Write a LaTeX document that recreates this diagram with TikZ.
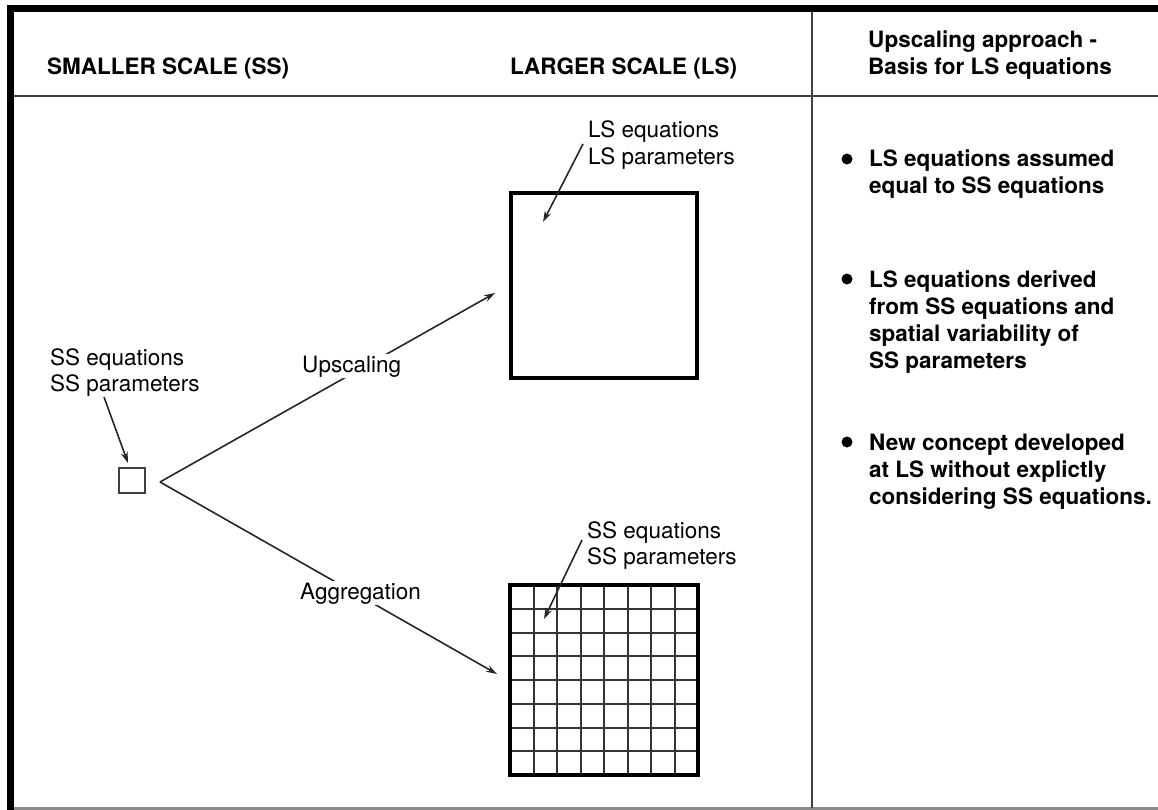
\documentclass[tikz,border=0pt]{standalone}
\usepackage{fontspec}
\setmainfont{TeX Gyre Heros}
\usetikzlibrary{arrows.meta}
\newcommand{\mlines}[1]{\begin{tabular}[t]{@{}l@{}}#1\end{tabular}}
\begin{document}
\begin{tikzpicture}[x=1pt,y=-1pt,
  lbl/.style={anchor=base west, inner sep=0pt, font=\fontsize{22.5}{26}\selectfont},
  hdr/.style={anchor=base west, inner sep=0pt, font=\fontsize{22.5}{27}\selectfont\bfseries},
  blt/.style={anchor=base west, inner sep=0pt, font=\fontsize{22.5}{27}\selectfont\bfseries},
  onl/.style={anchor=base west, inner sep=1.5pt, fill=white, font=\fontsize{22.5}{26}\selectfont},
  dot/.style={circle, fill=black, minimum size=11pt, inner sep=0pt},
  frame/.style={line width=7pt, black},
  rule/.style={line width=2pt, black!75},
  conn/.style={line width=1.6pt, black!85},
  arr/.style={conn, -{Stealth[length=11pt,width=7pt]}},
  bigbox/.style={line width=4pt, black},
  gridl/.style={line width=2pt, black!80}
]
\useasboundingbox (0,0) rectangle (1158,810);

% frame and table rules
\draw[line width=2.5pt, black!45] (7,808.5) -- (1158,808.5);
\draw[rule] (12,96) -- (1158,96);
\draw[line width=2.4pt, black!75] (812,9) -- (812,808);
\draw[frame] (7,8.5) -- (1158,8.5);
\draw[frame] (10.5,5) -- (10.5,810);

% headers
\node[hdr] (hss) at (47,74.5) {SMALLER SCALE (SS)};
\node[hdr] (hls) at (510,74.5) {LARGER SCALE (LS)};
\node[hdr] (hup) at (868,48) {\mlines{Upscaling approach -\\Basis for LS equations}};

% small scale element
\node[draw=black!75, line width=1.5pt, minimum width=26pt, minimum height=25pt, inner sep=0pt] (small) at (132,480.5) {};
\node[lbl] (sslbl) at (50,365) {\mlines{SS equations\\SS parameters}};
\coordinate (ssstart) at (104,397);
\coordinate (sstip) at (128,463);
\draw[arr] (ssstart) -- (sstip);

% branches
\coordinate (branch) at (160,482);
\coordinate (uptip) at (495,293);
\coordinate (agtip) at (497,674);
\draw[arr] (branch) -- (uptip);
\draw[arr] (branch) -- (agtip);
\node[onl] (uplbl) at (300.5,372) {Upscaling};
\node[onl] (aglbl) at (298.5,599) {Aggregation};

% large box
\node[bigbox, draw, minimum width=186pt, minimum height=185pt, inner sep=0pt] (lsbox) at (604,285.5) {};
\node[lbl, font=\fontsize{22.5}{27}\selectfont] (lslbl) at (588,138) {\mlines{LS equations\\LS parameters}};
\coordinate (lsstart) at (583,144);
\coordinate (lstip) at (543,222);
\draw[arr] (lsstart) -- (lstip);

% grid box
\foreach \i in {1,...,7} {
  \draw[gridl] ({510+\i*23.5},585) -- ({510+\i*23.5},775);
  \draw[gridl] (510,{585+\i*23.75}) -- (698,{585+\i*23.75});
}
\node[bigbox, draw, minimum width=188pt, minimum height=190pt, inner sep=0pt] (grid) at (604,680) {};
\node[lbl] (gridlbl) at (587,538) {\mlines{SS equations\\SS parameters}};
\coordinate (gstart) at (582,540);
\coordinate (gtip) at (544,619);
\draw[arr] (gstart) -- (gtip);

% right column bullets
\node[dot] (d1) at (847,159) {};
\node[blt] (t1) at (869,167) {\mlines{LS equations assumed\\equal to SS equations}};
\node[dot] (d2) at (847,279) {};
\node[blt] (t2) at (869,287) {\mlines{LS equations derived\\from SS equations and\\spatial variability of\\SS parameters}};
\node[dot] (d3) at (847,442) {};
\node[blt] (t3) at (869,450) {\mlines{New concept developed\\at LS without explictly\\considering SS equations.}};
\end{tikzpicture}
\end{document}
